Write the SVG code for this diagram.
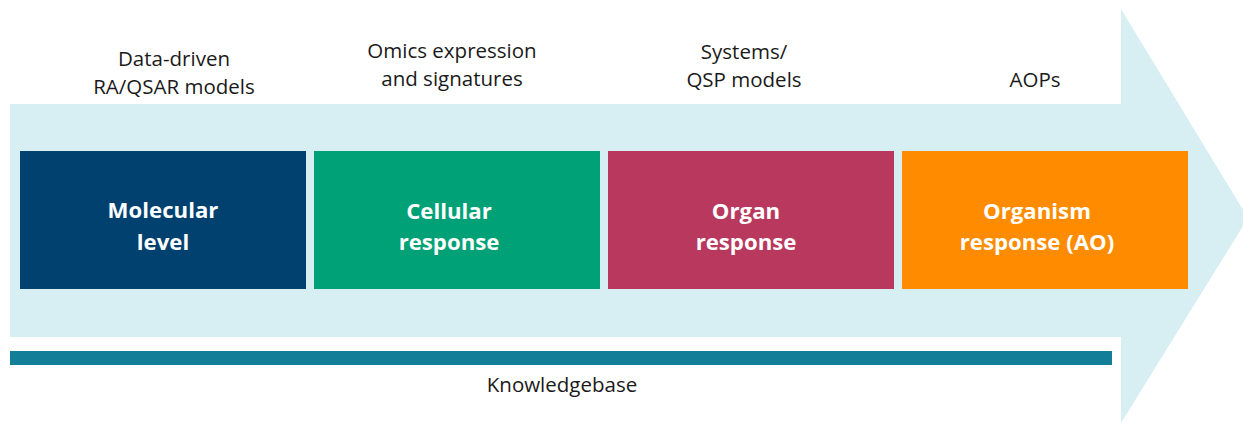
<svg xmlns="http://www.w3.org/2000/svg" width="1243" height="423" viewBox="0 0 1243 423">
  <style>
    .lbl { font-family: "Open Sans", "Noto Sans", "Liberation Sans", sans-serif; font-size: 20.5px; fill: #1a1a1a; text-anchor: middle; }
    .box-text { font-family: "Open Sans", "Noto Sans", "Liberation Sans", sans-serif; font-size: 22.2px; font-weight: 700; fill: #ffffff; text-anchor: middle; }
  </style>
  <rect width="1243" height="423" fill="#ffffff"/>

  <!-- big background arrow -->
  <g id="arrow">
    <polygon points="10,104 1121,104 1121,9 1248,218 1121,423 1121,337 10,337" fill="#D7EFF3"/>
  </g>

  <!-- level boxes -->
  <g id="molecular">
    <rect x="20" y="151" width="286" height="138" fill="#004170"/>
    <text class="box-text" x="163" y="218">Molecular</text>
    <text class="box-text" x="163" y="250">level</text>
  </g>
  <g id="cellular">
    <rect x="314" y="151" width="286" height="138" fill="#00A176"/>
    <text class="box-text" x="449" y="219">Cellular</text>
    <text class="box-text" x="449" y="250">response</text>
  </g>
  <g id="organ">
    <rect x="608" y="151" width="286" height="138" fill="#B9385E"/>
    <text class="box-text" x="746" y="219">Organ</text>
    <text class="box-text" x="746" y="250">response</text>
  </g>
  <g id="organism">
    <rect x="902" y="151" width="286" height="138" fill="#FF8C00"/>
    <text class="box-text" x="1037" y="219">Organism</text>
    <text class="box-text" x="1037" y="250">response (AO)</text>
  </g>

  <!-- model labels above the arrow -->
  <g id="label-qsar">
    <text class="lbl" x="174" y="66">Data-driven</text>
    <text class="lbl" x="174" y="94">RA/QSAR models</text>
  </g>
  <g id="label-omics">
    <text class="lbl" x="452" y="58">Omics expression</text>
    <text class="lbl" x="452" y="86">and signatures</text>
  </g>
  <g id="label-qsp">
    <text class="lbl" x="744" y="59">Systems/</text>
    <text class="lbl" x="744" y="87">QSP models</text>
  </g>
  <g id="label-aop">
    <text class="lbl" x="1035" y="87">AOPs</text>
  </g>

  <!-- knowledgebase bar -->
  <g id="knowledgebase">
    <rect x="10" y="351" width="1102" height="14" fill="#127E98"/>
    <text class="lbl" x="562" y="392">Knowledgebase</text>
  </g>

  <g id="connectors"></g>
</svg>
